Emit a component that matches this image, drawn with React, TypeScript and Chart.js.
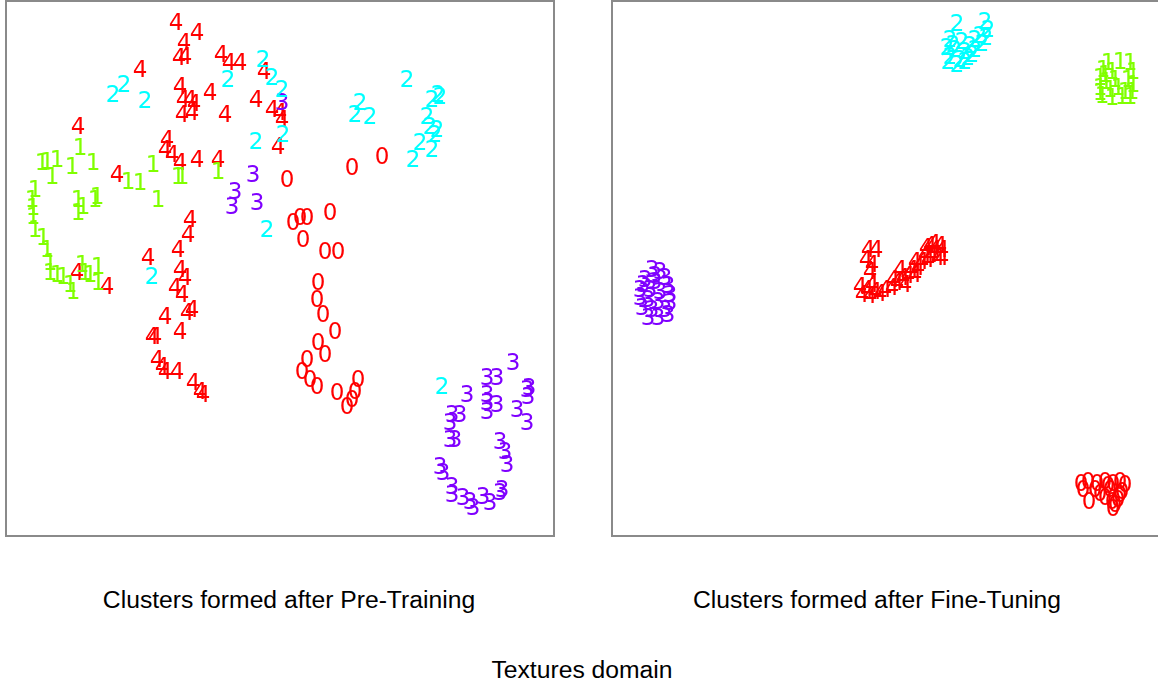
import React, { useEffect, useRef } from "react";
import { Chart, registerables } from "chart.js";
Chart.register(...registerables);

// class labels and colours (hsv colormap, label / 4)
const classDigits = ["0", "1", "2", "3", "4"];
const classColors = ["#ff0000", "#80ff00", "#00ffff", "#7f00ff", "#ff0000"];

// ---- Pre-training embedding ----
const pre0: number[][] = [
  [382, 157], [352, 168], [287, 180], [330, 213], [307, 218], [300, 218], [293, 223], [303, 240], [325, 252], [338, 252],
  [318, 283], [317, 300], [323, 315], [335, 332], [318, 343], [325, 355], [307, 360], [302, 372], [310, 380], [317, 387],
  [337, 393], [358, 380], [355, 392], [352, 400], [347, 407],
];
const pre1: number[][] = [
  [80, 148], [42, 163], [47, 162], [57, 160], [52, 177], [72, 167], [93, 163], [153, 165], [182, 177], [178, 177], [218, 172],
  [128, 182], [140, 183], [158, 200], [35, 190], [32, 200], [33, 208], [33, 217], [35, 230], [43, 238], [47, 250], [50, 263],
  [78, 200], [83, 207], [95, 200], [78, 213], [97, 197], [50, 273], [57, 275], [63, 277], [70, 285], [73, 292], [85, 273],
  [90, 275], [98, 267], [98, 283], [82, 265],
];
const pre2: number[][] = [
  [113, 95], [124, 85], [145, 101], [228, 80], [263, 60], [272, 78], [282, 90], [283, 135], [256, 142], [267, 230], [152, 277],
  [407, 80], [360, 103], [355, 115], [370, 117], [432, 100], [438, 95], [440, 97], [427, 117], [430, 127], [437, 130], [435, 135],
  [420, 143], [432, 150], [413, 160], [442, 387],
];
const pre3: number[][] = [
  [253, 175], [235, 192], [232, 207], [257, 203], [282, 103], [513, 363], [487, 378], [497, 378], [467, 395], [487, 395],
  [487, 403], [497, 405], [487, 412], [527, 390], [529, 388], [528, 397], [517, 410], [527, 423], [452, 415], [460, 415],
  [450, 423], [450, 440], [455, 440], [500, 442], [505, 452], [507, 465], [440, 467], [443, 473], [452, 487], [452, 495],
  [463, 498], [470, 502], [473, 508], [483, 497], [490, 503], [500, 493], [502, 490],
];
const pre4: number[][] = [
  [176, 23], [197, 33], [184, 43], [179, 58], [185, 57], [221, 55], [229, 63], [240, 63], [140, 70], [264, 72],
  [180, 87], [183, 100], [190, 100], [194, 104], [182, 115], [192, 113], [210, 93], [225, 115], [256, 100],
  [272, 110], [280, 113], [282, 120], [278, 147], [167, 140], [165, 150], [172, 155], [180, 163], [197, 160], [218, 160],
  [78, 127], [117, 175], [190, 220], [188, 235], [178, 250], [148, 258], [77, 273], [107, 287],
  [180, 270], [185, 278], [175, 288], [182, 295], [187, 313], [192, 310], [165, 317], [180, 332], [152, 337], [155, 337],
  [157, 360], [162, 367], [165, 372], [177, 372], [193, 383], [200, 392], [203, 395],
];

// ---- Fine-tuning embedding ----
const fine0: number[][] = [
  [1081, 484], [1088, 482], [1097, 484], [1105, 482], [1113, 484], [1120, 482], [1125, 485], [1083, 490], [1095, 490],
  [1110, 490], [1122, 492], [1089, 502], [1105, 498], [1112, 502], [1115, 505], [1113, 509], [1118, 500], [1100, 494],
  [1120, 495], [1108, 486],
];
const fine1: number[][] = [
  [1108, 63], [1120, 62], [1130, 63], [1103, 70], [1112, 72], [1133, 72], [1100, 78], [1106, 82], [1128, 80], [1133, 85],
  [1100, 88], [1110, 90], [1118, 88], [1125, 92], [1132, 92], [1102, 96], [1112, 98], [1122, 97], [1130, 97], [1105, 75],
  [1115, 80], [1100, 93],
];
const fine2: number[][] = [
  [957, 24], [985, 22], [988, 30], [986, 38], [982, 44], [975, 40], [970, 46], [962, 42], [950, 40], [947, 48],
  [955, 50], [965, 52], [975, 50], [950, 57], [960, 60], [968, 58], [948, 62], [957, 65], [965, 62], [972, 55],
  [980, 36], [953, 45],
];
const fine3: number[][] = [
  [652, 270], [660, 272], [665, 278], [645, 280], [655, 282], [668, 286], [640, 290], [650, 290], [660, 292], [670, 295],
  [640, 298], [648, 300], [658, 302], [670, 303], [642, 308], [652, 310], [665, 310], [668, 315], [648, 318], [658, 318],
  [655, 276], [643, 285],
];
const fine4: number[][] = [
  [868, 250], [876, 250], [866, 260], [872, 265], [870, 272], [860, 287], [867, 290], [875, 292], [862, 295], [870, 296],
  [880, 294], [885, 290], [872, 285], [892, 288], [897, 283], [903, 278], [908, 276], [900, 270], [912, 270], [918, 268],
  [915, 262], [922, 262], [928, 260], [925, 255], [932, 255], [938, 258], [935, 250], [930, 246], [940, 246], [926, 248],
  [915, 275], [905, 285], [893, 280], [934, 244], [942, 250], [942, 258],
];

const captionLeft = "Clusters formed after Pre-Training";
const captionRight = "Clusters formed after Fine-Tuning";
const captionBottom = "Textures domain";

function digitImage(d: string, color: string): HTMLCanvasElement {
  const c = document.createElement("canvas");
  c.width = 22;
  c.height = 28;
  const ctx = c.getContext("2d")!;
  ctx.font = '23px "DejaVu Sans"';
  ctx.fillStyle = color;
  ctx.textAlign = "center";
  ctx.textBaseline = "middle";
  ctx.fillText(d, 11, 15);
  return c;
}

function Panel({ left, sets, xMin, xMax }: { left: number; sets: number[][][]; xMin: number; xMax: number }) {
  const ref = useRef<HTMLCanvasElement>(null);
  useEffect(() => {
    const chart = new Chart(ref.current!, {
      type: "scatter",
      data: {
        datasets: sets.map((pts, i) => ({
          label: classDigits[i],
          data: pts.map(([x, y]) => ({ x, y })),
          pointStyle: digitImage(classDigits[i], classColors[i]),
          pointRadius: 10,
          clip: false as any,
        })),
      },
      options: {
        animation: false,
        responsive: false,
        devicePixelRatio: 1,
        layout: { padding: 0, autoPadding: false },
        events: [],
        scales: {
          x: { type: "linear", display: false, min: xMin, max: xMax },
          y: { type: "linear", display: false, min: 2, max: 535, reverse: true },
        },
        plugins: { legend: { display: false }, tooltip: { enabled: false } },
      },
    } as any);
    return () => chart.destroy();
  }, []);
  return (
    <div
      style={{
        position: "absolute",
        left,
        top: 0,
        width: 546,
        height: 533,
        border: "2px solid #8a8a8a",
      }}
    >
      <canvas ref={ref} width={546} height={533} style={{ display: "block" }} />
    </div>
  );
}

const capStyle: React.CSSProperties = {
  position: "absolute",
  fontFamily: '"Liberation Sans", Arial, sans-serif',
  fontSize: 24.7,
  lineHeight: "28px",
  color: "#000",
  textAlign: "center",
  whiteSpace: "nowrap",
};

export default function App() {
  return (
    <div style={{ position: "fixed", left: 0, top: 0, width: 1158, height: 685, overflow: "hidden", background: "#fff" }}>
      <Panel left={5} sets={[pre0, pre1, pre2, pre3, pre4]} xMin={7} xMax={553} />
      <Panel left={611} sets={[fine0, fine1, fine2, fine3, fine4]} xMin={613} xMax={1159} />
      <div style={{ ...capStyle, left: 0, width: 578, top: 586 }}>{captionLeft}</div>
      <div style={{ ...capStyle, left: 577, width: 600, top: 586 }}>{captionRight}</div>
      <div style={{ ...capStyle, left: 282, width: 600, top: 656 }}>{captionBottom}</div>
    </div>
  );
}
